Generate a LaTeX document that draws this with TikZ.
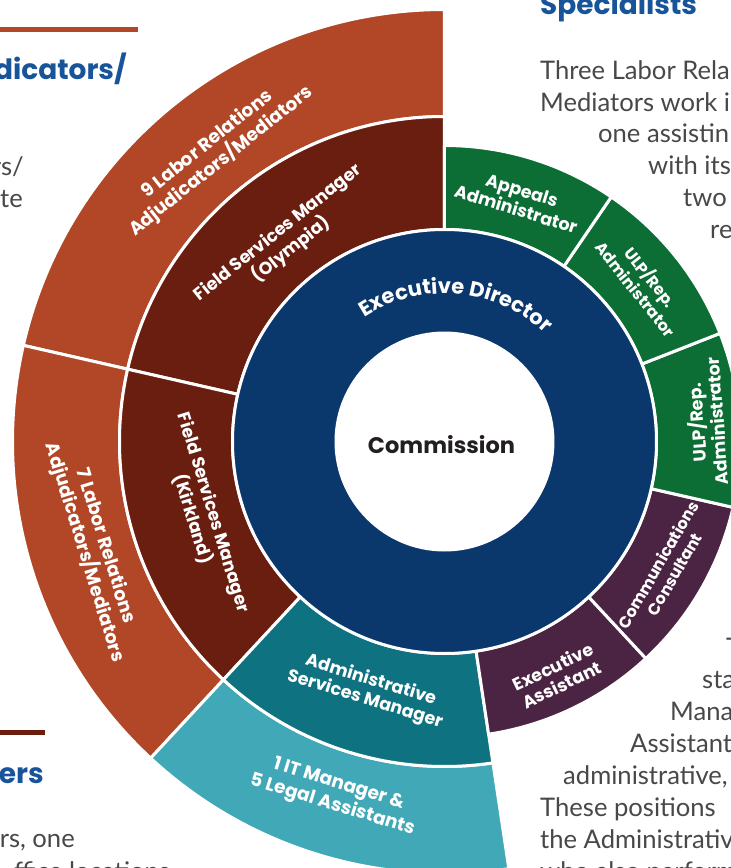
\documentclass[tikz,border=0pt]{standalone}
\usepackage{fontspec}
\usetikzlibrary{decorations.text}
\newfontfamily\lblfont{Poppins}
\newfontfamily\bodyfont{Lato}
\definecolor{cOuter}{HTML}{B14727}
\definecolor{cBrown}{HTML}{6A1E10}
\definecolor{cNavy}{HTML}{0B386C}
\definecolor{cGreen}{HTML}{0C6E34}
\definecolor{cPurple}{HTML}{4B2443}
\definecolor{cTeal}{HTML}{0F7280}
\definecolor{cLight}{HTML}{40A8B6}
\definecolor{cHead}{HTML}{17549A}
\definecolor{cBody}{HTML}{484848}
\definecolor{cDark}{HTML}{231F20}
\tikzset{
  lbl/.style={text=white, font=\lblfont\bfseries\fontsize{17.5}{20}\selectfont, align=center, inner sep=0pt},
  lblsmall/.style={lbl, font=\lblfont\bfseries\fontsize{16}{19}\selectfont},
  lblout/.style={lbl, font=\lblfont\bfseries\fontsize{18.5}{22}\selectfont},
  body/.style={text=cBody, font=\bodyfont\fontsize{25.6}{32}\selectfont, inner sep=0pt},
  head/.style={text=cHead, font=\lblfont\bfseries\fontsize{28}{32}\selectfont, inner sep=0pt},
  sepline/.style={draw=white, line width=3pt, line join=round},
}
\newcommand\wsector[5]{%
  \path[fill=#1, sepline] (#4:#2) arc[start angle=#4, end angle=#5, radius=#2]
    -- (#5:#3) arc[start angle=#5, end angle=#4, radius=#3] -- cycle;}
\newcommand\execfont{\lblfont\bfseries\fontsize{21}{21}\selectfont\color{white}}
\begin{document}
\begin{tikzpicture}[x=1pt,y=1pt]
\useasboundingbox (-444.5pt,-426.5pt) rectangle (286.5pt,441.5pt);
\clip (-444.5pt,-426.5pt) rectangle (286.5pt,441.5pt);
\fill[white] (-444.5pt,-426.5pt) rectangle (286.5pt,441.5pt);

% outer ring
\wsector{cOuter}{325pt}{432pt}{90}{167.14}
\wsector{cOuter}{325pt}{432pt}{167.14}{227.14}
\wsector{cLight}{325pt}{432pt}{227.14}{278.57}
% middle ring
\wsector{cBrown}{212pt}{325pt}{90}{167.14}
\wsector{cBrown}{212pt}{325pt}{167.14}{227.14}
\wsector{cTeal}{212pt}{325pt}{227.14}{278.57}
\wsector{cPurple}{212pt}{296pt}{278.57}{312.86}
\wsector{cPurple}{212pt}{296pt}{312.86}{347.14}
\wsector{cGreen}{212pt}{296pt}{347.14}{381.43}
\wsector{cGreen}{212pt}{296pt}{21.43}{55.71}
\wsector{cGreen}{212pt}{296pt}{55.71}{90}
% centre
\path[fill=cNavy, sepline] (0,0) circle[radius=212pt];
\fill[white] (0,0) circle[radius=110pt];

% labels
\node[lblout, rotate=38.57] (lab9) at (128.57:369pt) {9 Labor Relations\\Adjudicators/Mediators};
\node[lblout, rotate=-72.86] (lab7) at (197.14:366pt) {7 Labor Relations\\Adjudicators/Mediators};
\node[lblout, rotate=-17.14] (labit) at (252.86:370pt) {1 IT Manager \&\\5 Legal Assistants};
\node[lbl, rotate=38.57] (olympia) at (128.57:256pt) {Field Services Manager\\(Olympia)};
\node[lbl, rotate=-72.86] (kirkland) at (197.14:253pt) {Field Services Manager\\(Kirkland)};
\node[lbl, rotate=-17.14] (asm) at (252.86:260pt) {Administrative\\Services Manager};
\node[lbl, rotate=25.71] (ea) at (295.71:260pt) {Executive\\Assistant};
\node[lblsmall, rotate=60] (cc) at (330:256pt) {Communications\\Consultant};
\node[lbl, rotate=94.29] (ulpa) at (4.29:262pt) {ULP/Rep.\\Administrator};
\node[lblsmall, rotate=-51.43] (ulpb) at (38.57:255pt) {ULP/Rep.\\Administrator};
\node[lbl, rotate=-17.14] (appeals) at (72.86:253pt) {Appeals\\Administrator};
\node[font=\lblfont\bfseries\fontsize{22.5}{23}\selectfont, text=cDark, inner sep=0pt] (commission) at (-3pt,-3.5pt) {Commission};
\path[decorate, decoration={text along path, text align=center, text={|\execfont|Executive Director}}]
  (145:148pt) arc[start angle=145, end angle=25, radius=148pt];

% side texts
\fill[cOuter] (-444.5pt,414.5pt) rectangle (-306.5pt,409.5pt);
\fill[cBrown] (-444.5pt,-288.5pt) rectangle (-399.5pt,-293.5pt);
\node[head, anchor=base east] (h1) at (-317.5pt,361.5pt) {dicators/};
\node[head, anchor=base west] (h2) at (95.5pt,426.5pt) {Specialists};
\node[head, anchor=base east] (h3) at (-400.5pt,-341.5pt) {ers};
\node[body, anchor=base east] (l1) at (-420.5pt,265.5pt) {rs/};
\node[body, anchor=base east] (l2) at (-421.5pt,233.5pt) {te};
\node[body, anchor=base east] (l3) at (-369.5pt,-405.5pt) {rs, one};
\node[body, anchor=base west] (l4) at (-430.5pt,-438.5pt) {ffice locations};
\node[body, anchor=base west] (r1) at (95.5pt,361.5pt) {Three Labor Rela};
\node[body, anchor=base west] (r2) at (95.5pt,329.5pt) {Mediators work i};
\node[body, anchor=base west] (r3) at (153.5pt,298.5pt) {one assistin};
\node[body, anchor=base west] (r4) at (203.5pt,266.5pt) {with its};
\node[body, anchor=base west] (r5) at (238.5pt,234.5pt) {two};
\node[body, anchor=base west] (r6) at (265.5pt,203.5pt) {re};
\node[body, anchor=base west] (s1) at (281.5pt,-214.5pt) {T};
\node[body, anchor=base west] (s2) at (257.5pt,-246.5pt) {sta};
\node[body, anchor=base west] (s3) at (225.5pt,-278.5pt) {Mana};
\node[body, anchor=base west] (s4) at (185.5pt,-310.5pt) {Assistant};
\node[body, anchor=base west] (s5) at (118.5pt,-342.5pt) {administrative,};
\node[body, anchor=base west] (s6) at (95.5pt,-374.5pt) {These positions};
\node[body, anchor=base west] (s7) at (95.5pt,-406.5pt) {the Administrativ};
\node[body, anchor=base west] (s8) at (95.5pt,-438.5pt) {who also perform};
\end{tikzpicture}
\end{document}
